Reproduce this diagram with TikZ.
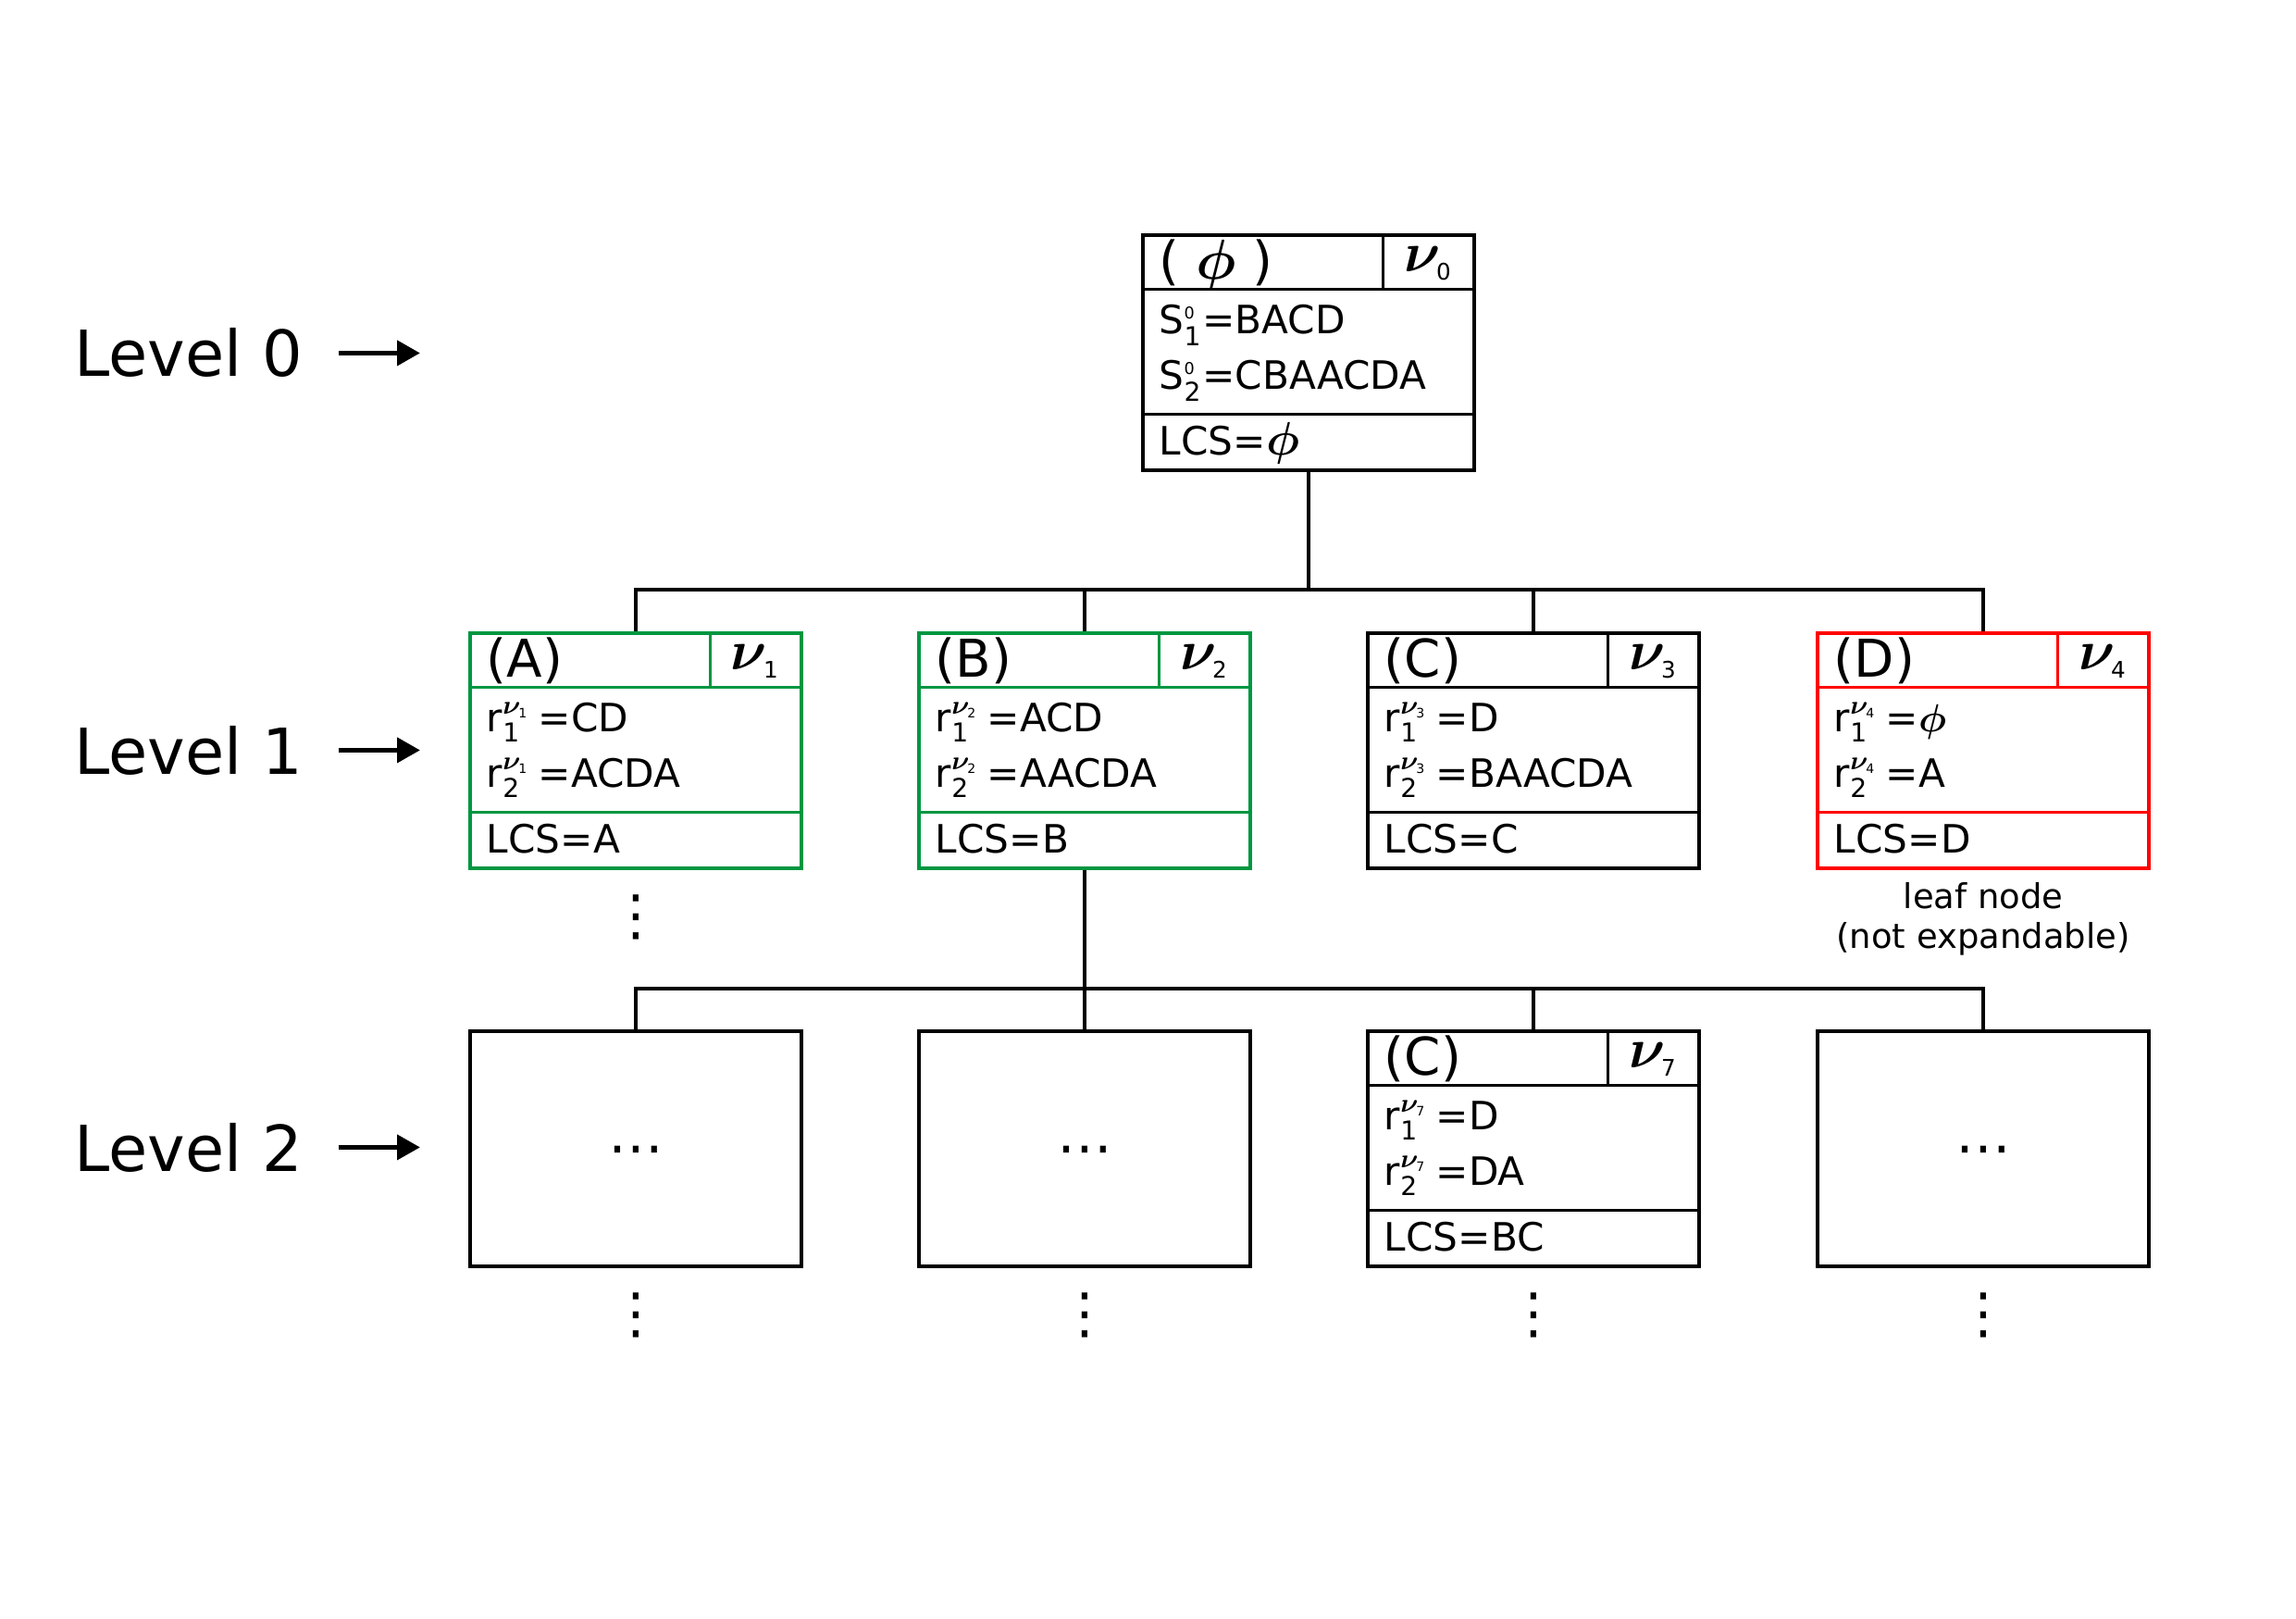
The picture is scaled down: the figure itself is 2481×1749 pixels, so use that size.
\documentclass[tikz,border=0pt]{standalone}
\usepackage{fontspec}
\setmainfont{DejaVu Sans}
\usetikzlibrary{arrows.meta, positioning, calc}

\definecolor{expgreen}{RGB}{0,150,64}
\definecolor{leafred}{RGB}{255,0,0}

\begin{document}
\begin{tikzpicture}[x=0.01cm, y=-0.01cm,
  tnode/.style={rectangle, draw=black, line width=0.95pt,
                minimum width=3.58cm, minimum height=2.54cm, inner sep=0pt},
  hdr/.style={anchor=base west, inner sep=0pt, font=\fontsize{16}{18}\selectfont\boldmath},
  vlab/.style={anchor=base, inner sep=0pt, font=\fontsize{19}{20}\selectfont\boldmath},
  row/.style={anchor=base west, inner sep=0pt, font=\fontsize{12}{14}\selectfont\boldmath},
  lvl/.style={anchor=base west, inner sep=0pt, font=\fontsize{19.5}{22}\selectfont},
  dots/.style={inner sep=0pt, font=\fontsize{17}{17}\selectfont},
  sep/.style={line width=0.95pt},
  edge/.style={line width=0.95pt},
  levarr/.style={-{Triangle[length=7pt,width=7.6pt]}, line width=1.2pt}
]
\useasboundingbox (0,0) rectangle (2481,1749);

% level labels
\node[lvl] (lv0) at (80,407) {Level 0};
\node[lvl] (lv1) at (80,836) {Level 1};
\node[lvl] (lv2) at (80,1265) {Level 2};
\foreach \l in {lv0,lv1,lv2}
  \draw[levarr] (\l.east) ++(38,0) -- ++(88,0);

% root and level 1
\node[tnode] (v0) at (1414,381) {};
\node[tnode, draw=expgreen] (v1) at (687,811) {};
\node[tnode, draw=expgreen] (v2) at (1172,811) {};
\node[tnode] (v3) at (1657,811) {};
\node[tnode, draw=leafred] (v4) at (2143,811) {};
% level 2
\node[tnode] (w1) at (687,1241) {};
\node[tnode] (w2) at (1172,1241) {};
\node[tnode] (v7) at (1657,1241) {};
\node[tnode] (w4) at (2143,1241) {};

% compartments
\foreach \b/\c in {v0/black, v1/expgreen, v2/expgreen, v3/black, v4/leafred, v7/black} {
  \draw[sep, \c] ($(\b.north west)+(0,60)$) -- ($(\b.north east)+(0,60)$);
  \draw[sep, \c] ($(\b.north west)+(0,195)$) -- ($(\b.north east)+(0,195)$);
  \draw[sep, \c] ($(\b.north west)+(261,0)$) -- ($(\b.north west)+(261,60)$);
}

% root contents
\node[hdr] (h0) at ($(v0.north west)+(19,49)$)
  {( {\fontsize{17}{18}\selectfont$\phi$} )};
\node[vlab] (n0) at ($(v0.north west)+(310,41)$) {$\nu_{\mbox{\scriptsize 0}}$};
\node[row] (s1) at ($(v0.north west)+(19,108)$) {S$^{\mbox{\tiny 0}}_{\mbox{\footnotesize 1}}$=BACD};
\node[row] (s2) at ($(v0.north west)+(19,168)$) {S$^{\mbox{\tiny 0}}_{\mbox{\footnotesize 2}}$=CBAACDA};
\node[row] (l0) at ($(v0.north west)+(19,239)$)
  {LCS={\fontsize{15}{16}\selectfont$\phi$}};

% child contents
\foreach \b/\h/\k/\p/\q/\s in {v1/A/1/CD/ACDA/A, v2/B/2/ACD/AACDA/B,
    v3/C/3/D/BAACDA/C, v4/D/4/$\phi$/A/D, v7/C/7/D/DA/BC} {
  \node[hdr] (h\b) at ($(\b.north west)+(19,49)$) {(\h)};
  \node[vlab] (n\b) at ($(\b.north west)+(310,41)$) {$\nu_{\mbox{\scriptsize\k}}$};
  \node[row] (r\b) at ($(\b.north west)+(19,108)$)
    {r$^{\nu_{\mbox{\fontsize{4}{4}\selectfont\k}}}_{\mbox{\footnotesize 1}}$\hspace{2.5pt}=\p};
  \node[row] (q\b) at ($(\b.north west)+(19,168)$)
    {r$^{\nu_{\mbox{\fontsize{4}{4}\selectfont\k}}}_{\mbox{\footnotesize 2}}$\hspace{2.5pt}=\q};
  \node[row] (l\b) at ($(\b.north west)+(19,239)$) {LCS=\s};
}

% tree edges
\coordinate (bus1) at (1414,637);
\draw[edge] (v0.south) -- (bus1);
\foreach \b in {v1,v2,v3,v4} \draw[edge] (bus1) -| (\b.north);
\coordinate (bus2) at (1172,1068);
\draw[edge] (v2.south) -- (bus2);
\foreach \b in {w1,w2,v7,w4} \draw[edge] (bus2) -| (\b.north);

% dots
\node[dots] (e1) at (687,1249) {⋯};
\node[dots] (e2) at (1172,1249) {⋯};
\node[dots] (e4) at (2143,1249) {⋯};
\node[dots] (d0) at (687,991) {⋮};
\foreach \x/\i in {687/1,1172/2,1657/3,2143/4}
  \node[dots] (d\i) at (\x,1421) {⋮};

\node[inner sep=0pt, anchor=north, align=center,
      font=\fontsize{10.5}{12.2}\selectfont] (leaf) at (2143,953)
  {leaf node\\(not expandable)};
\end{tikzpicture}
\end{document}
